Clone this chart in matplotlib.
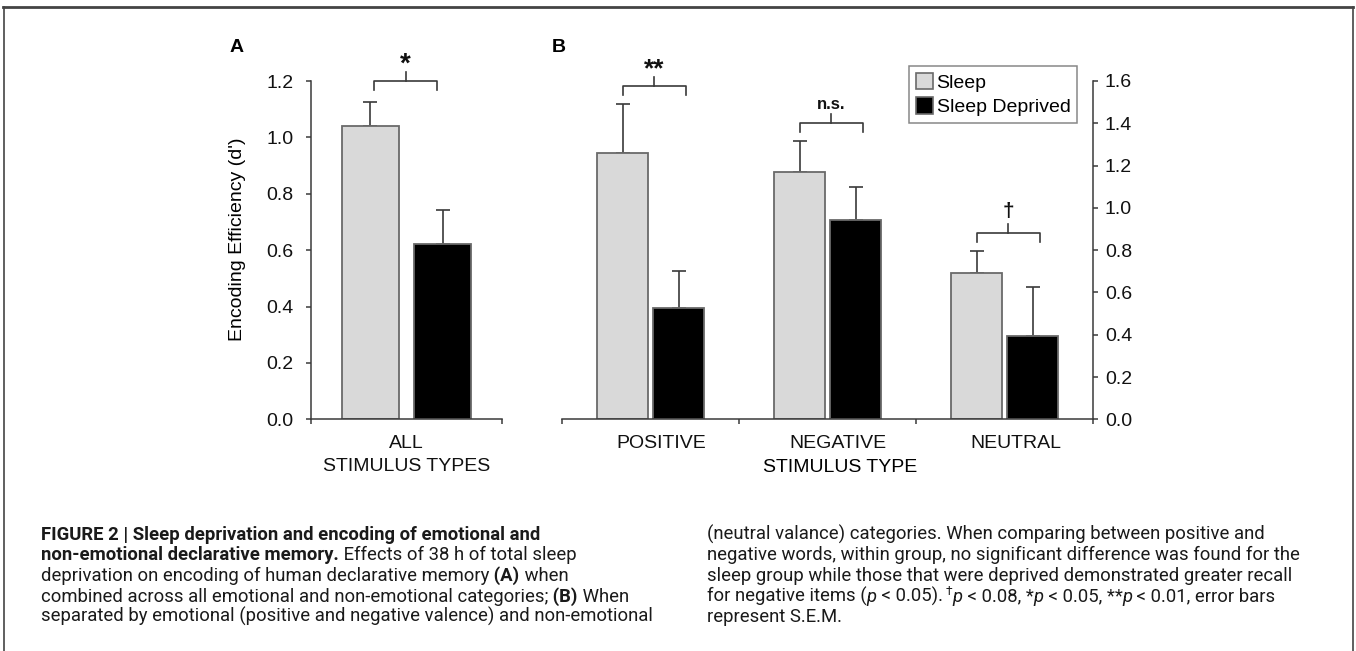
import matplotlib
matplotlib.use("Agg")
import matplotlib.pyplot as plt
import numpy as np
from matplotlib import font_manager
from matplotlib.lines import Line2D
from matplotlib.patches import Patch

# ---------------- data ----------------
series_names = ["Sleep", "Sleep Deprived"]

a_category = ["ALL\nSTIMULUS TYPES"]
a_sleep = [1.042]
a_sleep_sem = [0.084]
a_deprived = [0.623]
a_deprived_sem = [0.121]
a_sig = ["*"]

b_categories = ["POSITIVE", "NEGATIVE", "NEUTRAL"]
b_sleep = [1.26, 1.17, 0.69]
b_sleep_sem = [0.23, 0.146, 0.106]
b_deprived = [0.525, 0.944, 0.392]
b_deprived_sem = [0.176, 0.155, 0.235]
b_sig = ["**", "n.s.", "\u2020"]

a_yticks = [0.0, 0.2, 0.4, 0.6, 0.8, 1.0, 1.2]
b_yticks = [0.0, 0.2, 0.4, 0.6, 0.8, 1.0, 1.2, 1.4, 1.6]

# ---------------- style ----------------
W, H = 1356, 651
FONT = "Liberation Sans"
plt.rcParams["font.family"] = [FONT, "DejaVu Sans"]
FS = 14
AX_COL = "#3a3a3a"
SLEEP_COL = "#d9d9d9"
SD_COL = "#000000"
EDGE_COL = "#6a6a6a"
ERR_COL = "#3a3a3a"

fig = plt.figure(figsize=(W / 100, H / 100), dpi=100)


def fig_rect(x0, y0, x1, y1):
    return [x0 / W, 1 - y1 / H, (x1 - x0) / W, (y1 - y0) / H]


axA = fig.add_axes(fig_rect(310.7, 81.0, 502.3, 419.3))
axB = fig.add_axes(fig_rect(562.3, 81.0, 1093.3, 419.3))


def draw_bars(ax, n, sleep, sleep_sem, dep, dep_sem, width, off):
    x = np.arange(n)
    ax.bar(x - off, sleep, width, color=SLEEP_COL, edgecolor=EDGE_COL, linewidth=1.3, zorder=2)
    ax.bar(x + off, dep, width, color=SD_COL, edgecolor=EDGE_COL, linewidth=1.3, zorder=2)
    ax.errorbar(x - off, sleep, yerr=[np.zeros(n), sleep_sem], fmt="none", ecolor=ERR_COL,
                elinewidth=1.2, capsize=5, capthick=1.2, zorder=1)
    ax.errorbar(x + off, dep, yerr=[np.zeros(n), dep_sem], fmt="none", ecolor=ERR_COL,
                elinewidth=1.2, capsize=5, capthick=1.2, zorder=1)
    return x


xa = draw_bars(axA, len(a_category), a_sleep, a_sleep_sem, a_deprived, a_deprived_sem, 0.297, 0.19)
xb = draw_bars(axB, len(b_categories), b_sleep, b_sleep_sem, b_deprived, b_deprived_sem, 0.288, 0.158)

# axes A
axA.set_xlim(-0.5, 0.5)
axA.set_ylim(0, 1.2)
axA.spines["top"].set_visible(False)
axA.spines["right"].set_visible(False)
axA.set_yticks(a_yticks)
axA.set_yticklabels([f"{v:.1f}" for v in a_yticks])
axA.set_xticks([-0.5, 0.5])
axA.set_xticklabels([])
axA.set_xticks(xa, minor=True)
axA.set_xticklabels(a_category, minor=True, linespacing=1.42)
axA.set_ylabel("Encoding Efficiency (d')", fontsize=FS, va="center")
axA.yaxis.set_label_coords(-0.383, 0.531)

# axes B
axB.set_xlim(-0.5, 2.5)
axB.set_ylim(0, 1.6)
axB.spines["top"].set_visible(False)
axB.spines["left"].set_visible(False)
axB.yaxis.tick_right()
axB.set_yticks(b_yticks)
axB.set_yticklabels([f"{v:.1f}" for v in b_yticks])
axB.set_xticks([-0.5, 0.5, 1.5, 2.5])
axB.set_xticklabels([])
axB.set_xticks(xb + 0.06, minor=True)
axB.set_xticklabels(b_categories, minor=True)
axB.set_xlabel("STIMULUS TYPE", fontsize=FS, va="center")
axB.xaxis.set_label_coords(0.523, -0.142)

for ax in (axA, axB):
    for sp in ax.spines.values():
        sp.set_color(AX_COL)
        sp.set_linewidth(1.1)
    ax.tick_params(axis="both", which="major", direction="out", length=3.4, width=1.1,
                   color=AX_COL, labelsize=FS, labelcolor="#111111")
    ax.tick_params(axis="x", which="minor", length=0, pad=11.5, labelsize=FS, labelcolor="#111111")
axA.tick_params(axis="y", pad=9)
axB.tick_params(axis="y", pad=5)


def px_per_unit(ax):
    pos = ax.get_position()
    lo, hi = ax.get_ylim()
    return pos.height * H / (hi - lo)


def bracket(ax, x0, x1, y, label, fs, base_px):
    ppu = px_per_unit(ax)
    d = 9 / ppu
    ax.plot([x0, x0, x1, x1], [y - d, y, y, y - d], color=AX_COL, lw=1.2, clip_on=False)
    xc = (x0 + x1) / 2
    ax.plot([xc, xc], [y, y + d], color=AX_COL, lw=1.2, clip_on=False)
    ax.annotate(label, (xc, y), xytext=(0, base_px * 0.72), textcoords="offset points",
                ha="center", va="baseline", fontsize=fs, fontweight="bold",
                annotation_clip=False, color="#111111")


sig_style = {"*": (20, 9.5), "**": (19, 9.8), "n.s.": (12, 14.0), "\u2020": (15, 15.5)}

gap_a = 21 / px_per_unit(axA)
for i, lab in enumerate(a_sig):
    top = max(a_sleep[i] + a_sleep_sem[i], a_deprived[i] + a_deprived_sem[i])
    fs, bp = sig_style[lab]
    bracket(axA, xa[i] - 0.17, xa[i] + 0.16, top + gap_a, lab, fs, bp)

gap_b = 18 / px_per_unit(axB)
for i, lab in enumerate(b_sig):
    top = max(b_sleep[i] + b_sleep_sem[i], b_deprived[i] + b_deprived_sem[i])
    fs, bp = sig_style[lab]
    bracket(axB, xb[i] - 0.158, xb[i] + 0.198, top + gap_b, lab, fs, bp)

# legend
handles = [Patch(facecolor=SLEEP_COL, edgecolor=EDGE_COL, linewidth=1.2, label=series_names[0]),
           Patch(facecolor=SD_COL, edgecolor=EDGE_COL, linewidth=1.2, label=series_names[1])]
leg = axB.legend(handles=handles, loc="upper left", bbox_to_anchor=(909.3 / W, 1 - 66 / H),
                 bbox_transform=fig.transFigure, fontsize=FS, frameon=True, fancybox=False,
                 borderpad=0.35, labelspacing=0.3, handlelength=0.85, handleheight=0.9,
                 handletextpad=0.2, borderaxespad=0)
leg.get_frame().set_edgecolor("#6a6a6a")
leg.get_frame().set_linewidth(1.1)

# panel letters
fig.text(237 / W, 1 - 52 / H, "A", fontsize=14, fontweight="bold", ha="center", va="baseline")
fig.text(559 / W, 1 - 52 / H, "B", fontsize=14, fontweight="bold", ha="center", va="baseline")

# frame lines
fig.add_artist(Line2D([3 / W, 1353 / W], [1 - 7 / H, 1 - 7 / H], transform=fig.transFigure,
                      color="#444444", lw=2))
fig.add_artist(Line2D([3.5 / W, 3.5 / W], [1 - 7 / H, 0], transform=fig.transFigure,
                      color="#444444", lw=1.2))
fig.add_artist(Line2D([1352.5 / W, 1352.5 / W], [1 - 7 / H, 0], transform=fig.transFigure,
                      color="#444444", lw=1.2))

# ---------------- caption ----------------
names = {f.name for f in font_manager.fontManager.ttflist}
if "Liberation Sans Narrow" in names:
    CAP_FONT = "Liberation Sans Narrow"
elif "Roboto" in names:
    CAP_FONT = "Roboto"
else:
    CAP_FONT = "Liberation Sans"
CAP_FAM = [CAP_FONT, "DejaVu Sans"]

N, B, I, S = "n", "b", "i", "s"
left_lines = [
    [("FIGURE 2 | Sleep deprivation and encoding of emotional and", B)],
    [("non-emotional declarative memory.", B), (" Effects of 38 h of total sleep", N)],
    [("deprivation on encoding of human declarative memory", N), (" (A)", B), (" when", N)],
    [("combined across all emotional and non-emotional categories;", N), (" (B)", B), (" When", N)],
    [("separated by emotional (positive and negative valence) and non-emotional", N)],
]
right_lines = [
    [("(neutral valance) categories. When comparing between positive and", N)],
    [("negative words, within group, no significant difference was found for the", N)],
    [("sleep group while those that were deprived demonstrated greater recall", N)],
    [("for negative items (", N), ("p", I), (" < 0.05).", N), (" \u2020", S), ("p", I),
     (" < 0.08, *", N), ("p", I), (" < 0.05, **", N), ("p", I), (" < 0.01, error bars", N)],
    [("represent S.E.M.", N)],
]

renderer = fig.canvas.get_renderer()
probe = fig.text(0, 0, left_lines[4][0][0], fontsize=10, family=CAP_FAM)
pw = probe.get_window_extent(renderer).width
probe.remove()
CAP_FS = 10 * 612 / pw

baselines = [540, 560.5, 581, 601.5, 622]


def draw_caption(x0, lines):
    for line, yb in zip(lines, baselines):
        ybp = H - yb
        prev = None
        for txt, kind in line:
            kw = dict(fontsize=CAP_FS, family=CAP_FAM, ha="left", va="baseline",
                      annotation_clip=False, color="#1a1a1a")
            if kind == B:
                kw["fontweight"] = "bold"
            if kind == I:
                kw["fontstyle"] = "italic"
            yy = ybp
            if kind == S:
                kw["fontsize"] = CAP_FS * 0.65
                yy = ybp + CAP_FS * 0.45
            if prev is None:
                t = fig.text(x0 / W, yy / H, txt, **{k: v for k, v in kw.items() if k != "annotation_clip"})
            else:
                t = axA.annotate(txt, xy=(1, yy), xycoords=(prev, "figure pixels"), **kw)
            prev = t
            t.draw(renderer)


draw_caption(41, left_lines)
draw_caption(707, right_lines)

fig.savefig("out.png", dpi=100)
